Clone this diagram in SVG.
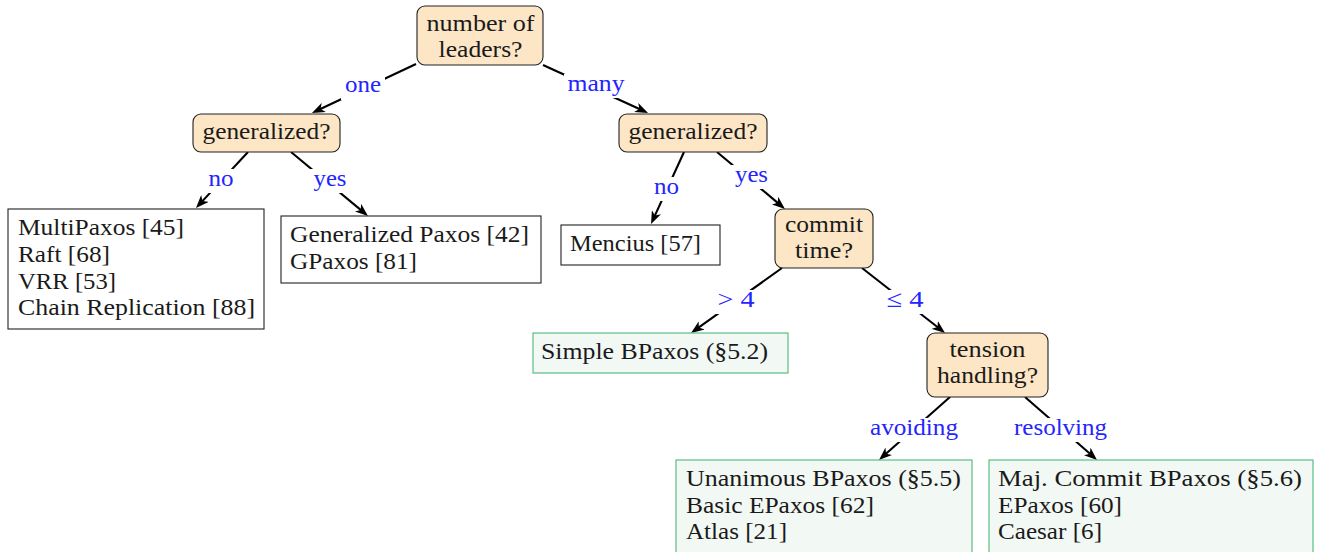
<svg xmlns="http://www.w3.org/2000/svg" width="1317" height="552" viewBox="0 0 1317 552" font-family="'Liberation Serif', 'DejaVu Serif', serif">
<style>
text{font-family:'Liberation Serif','DejaVu Serif',serif;font-size:24px;fill:#1a1a1a}
.q{fill:#fde6c6;stroke:#222;stroke-width:1.1}
.b{fill:#fff;stroke:#222;stroke-width:1.1}
.g{fill:#f2f8f4;stroke:#4cb878;stroke-width:1.1}
.c{text-anchor:middle}
.e{fill:none;stroke:#000;stroke-width:2.1;marker-end:url(#ah)}
.lb{fill:#fff;stroke:none}
.lt{fill:#2424ff;text-anchor:middle}
</style>
<defs>
<marker id="ah" markerUnits="userSpaceOnUse" viewBox="0 0 13 10" markerWidth="13" markerHeight="10" refX="9" refY="5" orient="auto">
<path d="M0,0 L13,5 L0,10 L3.5,5 z" fill="#000"/>
</marker>
</defs>
<rect width="1317" height="552" fill="#fff"/>
<g id="connectors">
<path class="e" d="M416,64 L315.6,111.3"/>
<path class="e" d="M543,65 L644.4,111.3"/>
<path class="e" d="M248,152 L198.7,205.1"/>
<path class="e" d="M291,152 L364.9,213.4"/>
<path class="e" d="M684,152 L652.7,220.4"/>
<path class="e" d="M717,152 L781.9,206.4"/>
<path class="e" d="M782,268 L694.3,330.7"/>
<path class="e" d="M862,268 L941.9,330.5"/>
<path class="e" d="M950,397 L882,457.3"/>
<path class="e" d="M1025,397 L1094,457.3"/>
<rect class="lb" x="341" y="76" width="44" height="24"/>
<text class="lt" x="363" y="92" textLength="36" lengthAdjust="spacingAndGlyphs">one</text>
<rect class="lb" x="564" y="74" width="66" height="24"/>
<text class="lt" x="596" y="91" textLength="57" lengthAdjust="spacingAndGlyphs">many</text>
<rect class="lb" x="205" y="169" width="32" height="24"/>
<text class="lt" x="221" y="186" textLength="25" lengthAdjust="spacingAndGlyphs">no</text>
<rect class="lb" x="310" y="169" width="40" height="24"/>
<text class="lt" x="330" y="186" textLength="33" lengthAdjust="spacingAndGlyphs">yes</text>
<rect class="lb" x="650" y="177" width="33" height="24"/>
<text class="lt" x="666.5" y="194" textLength="25" lengthAdjust="spacingAndGlyphs">no</text>
<rect class="lb" x="731" y="165" width="41" height="24"/>
<text class="lt" x="751.5" y="182" textLength="33" lengthAdjust="spacingAndGlyphs">yes</text>
<rect class="lb" x="713" y="290" width="46" height="24"/>
<text class="lt" x="736" y="307" textLength="37" lengthAdjust="spacingAndGlyphs">&gt; 4</text>
<rect class="lb" x="882" y="290" width="46" height="24"/>
<text class="lt" x="905" y="307" textLength="37" lengthAdjust="spacingAndGlyphs">≤ 4</text>
<rect class="lb" x="866" y="418" width="96" height="24"/>
<text class="lt" x="914" y="435" textLength="88" lengthAdjust="spacingAndGlyphs">avoiding</text>
<rect class="lb" x="1010" y="418" width="101" height="24"/>
<text class="lt" x="1060.5" y="435" textLength="93" lengthAdjust="spacingAndGlyphs">resolving</text>
</g>
<g id="n-root">
<rect class="q" x="417" y="6" width="126" height="59" rx="8"/>
<text class="c" x="480.5" y="31" textLength="108" lengthAdjust="spacingAndGlyphs">number of</text>
<text class="c" x="480.5" y="57" textLength="84" lengthAdjust="spacingAndGlyphs">leaders?</text>
</g>
<g id="n-gen-left">
<rect class="q" x="193" y="114" width="147" height="38" rx="8"/>
<text class="c" x="266.5" y="139" textLength="128" lengthAdjust="spacingAndGlyphs">generalized?</text>
</g>
<g id="n-gen-right">
<rect class="q" x="619" y="114" width="148" height="38" rx="8"/>
<text class="c" x="693" y="139" textLength="129" lengthAdjust="spacingAndGlyphs">generalized?</text>
</g>
<g id="n-commit">
<rect class="q" x="775" y="209" width="98" height="59" rx="8"/>
<text class="c" x="824" y="232" textLength="78" lengthAdjust="spacingAndGlyphs">commit</text>
<text class="c" x="824" y="258" textLength="58" lengthAdjust="spacingAndGlyphs">time?</text>
</g>
<g id="n-tension">
<rect class="q" x="927" y="333" width="121" height="64" rx="8"/>
<text class="c" x="987.5" y="357" textLength="76" lengthAdjust="spacingAndGlyphs">tension</text>
<text class="c" x="987.5" y="383" textLength="101" lengthAdjust="spacingAndGlyphs">handling?</text>
</g>
<g id="n-multipaxos">
<rect class="b" x="8" y="209" width="256" height="120"/>
<text x="18" y="235" textLength="166" lengthAdjust="spacingAndGlyphs">MultiPaxos [45]</text>
<text x="18" y="262" textLength="92" lengthAdjust="spacingAndGlyphs">Raft [68]</text>
<text x="18" y="288.5" textLength="98" lengthAdjust="spacingAndGlyphs">VRR [53]</text>
<text x="18" y="315" textLength="237" lengthAdjust="spacingAndGlyphs">Chain Replication [88]</text>
</g>
<g id="n-gpaxos">
<rect class="b" x="281" y="216" width="260" height="67"/>
<text x="290" y="242" textLength="239" lengthAdjust="spacingAndGlyphs">Generalized Paxos [42]</text>
<text x="290" y="269" textLength="127" lengthAdjust="spacingAndGlyphs">GPaxos [81]</text>
</g>
<g id="n-mencius">
<rect class="b" x="561" y="225" width="159" height="40"/>
<text x="570" y="251" textLength="131" lengthAdjust="spacingAndGlyphs">Mencius [57]</text>
</g>
<g id="n-simple">
<rect class="g" x="533" y="333" width="255" height="40"/>
<text x="541" y="359" textLength="227" lengthAdjust="spacingAndGlyphs">Simple BPaxos (§5.2)</text>
</g>
<g id="n-unanimous">
<rect class="g" x="676" y="460" width="296" height="100"/>
<text x="686" y="486" textLength="275" lengthAdjust="spacingAndGlyphs">Unanimous BPaxos (§5.5)</text>
<text x="686" y="513" textLength="188" lengthAdjust="spacingAndGlyphs">Basic EPaxos [62]</text>
<text x="686" y="539" textLength="101" lengthAdjust="spacingAndGlyphs">Atlas [21]</text>
</g>
<g id="n-majcommit">
<rect class="g" x="989" y="460" width="324" height="100"/>
<text x="998" y="486" textLength="304" lengthAdjust="spacingAndGlyphs">Maj. Commit BPaxos (§5.6)</text>
<text x="998" y="513" textLength="124" lengthAdjust="spacingAndGlyphs">EPaxos [60]</text>
<text x="998" y="539" textLength="104" lengthAdjust="spacingAndGlyphs">Caesar [6]</text>
</g>
</svg>
